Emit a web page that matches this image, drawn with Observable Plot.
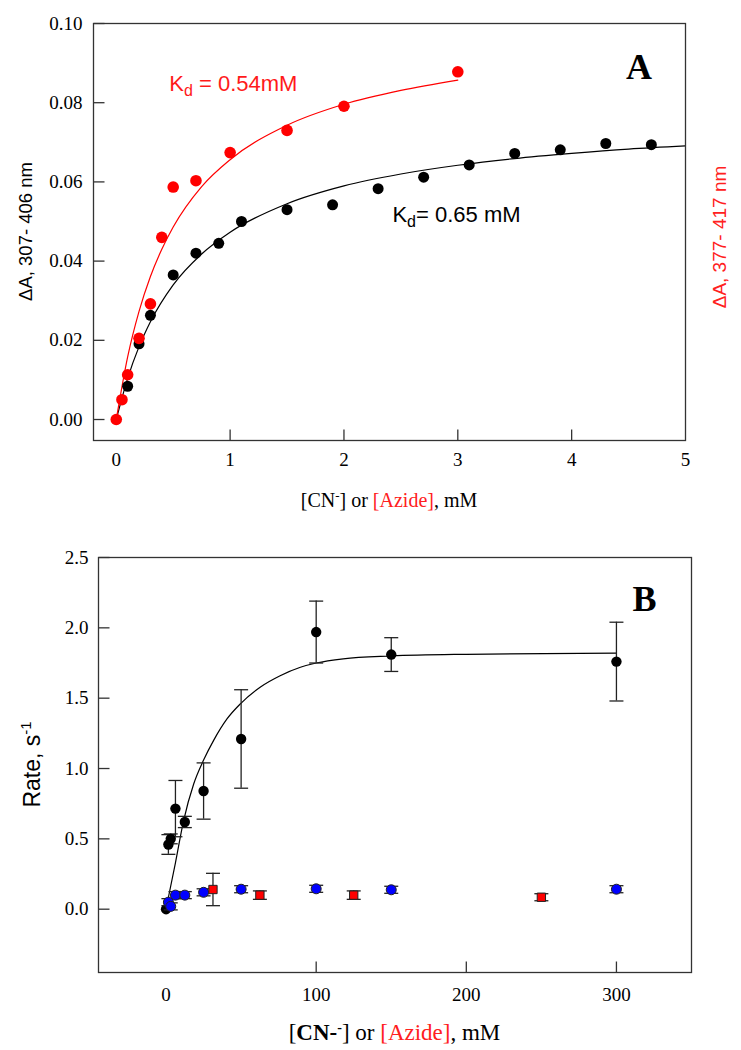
<!DOCTYPE html>
<html><head><meta charset="utf-8">
<script src="https://cdn.jsdelivr.net/npm/d3@7"></script>
<script src="https://cdn.jsdelivr.net/npm/@observablehq/plot@0.6"></script>
<style>
body{margin:0;background:#fff;}
#wrap{position:relative;width:741px;height:1050px;background:#fff;}
#wrap svg{position:absolute;left:0;overflow:visible;}
</style></head><body><div id="wrap"></div>
<script>
// ---------- Panel A data ----------
const cnConc   = [0.1,0.2,0.3,0.5,0.7,0.9,1.1,1.5,1.9,2.3,2.7,3.1,3.5,3.9,4.3,4.7];
const cnDeltaA = [0.0084,0.0191,0.0263,0.0365,0.0420,0.0445,0.0500,0.0530,0.0542,0.0583,0.0612,0.0643,0.0672,0.0681,0.0697,0.0694];
const azConc   = [0,0.05,0.1,0.2,0.3,0.4,0.5,0.7,1.0,1.5,2.0,3.0];
const azDeltaA = [0.0,0.0050,0.0113,0.0205,0.0292,0.0460,0.0587,0.0603,0.0674,0.0730,0.0791,0.0878];
const cnFitX = [0,0.1,0.2,0.3,0.5,0.75,1,1.5,2,2.5,3,3.5,4,4.5,5];
const cnFitY = [0,0.0104,0.0184,0.0247,0.0340,0.0418,0.0473,0.0545,0.0590,0.0620,0.0642,0.0659,0.0672,0.0683,0.0691];
const azFitX = [0,0.1,0.2,0.3,0.4,0.5,0.75,1,1.5,2,2.5,3];
const azFitY = [0,0.0158,0.0273,0.0361,0.0430,0.0486,0.0588,0.0656,0.0743,0.0796,0.0831,0.0857];
const yTicksA = [0,0.02,0.04,0.06,0.08,0.10];
const xTicksA = [0,1,2,3,4,5];
const xInnerTicksA = [1,2,3,4];

// ---------- Panel B data ----------
const cnRateConc = [0,1.56,3.125,6.25,12.5,25,50,100,150,300];
const cnRate     = [0.0,0.46,0.50,0.715,0.62,0.84,1.21,1.97,1.81,1.76];
const cnRateErr  = [0,0.07,0.035,0.2,0.04,0.2,0.35,0.22,0.12,0.28];
const blueConc   = [1.56,3.125,6.25,12.5,25,50,100,150,300];
const blueRate   = [0.05,0.02,0.10,0.10,0.12,0.142,0.145,0.138,0.142];
const blueErr    = [0.025,0.025,0.025,0.025,0.025,0.025,0.025,0.025,0.025];
const azRateConc = [31.25,62.5,125,250];
const azRate     = [0.14,0.10,0.10,0.085];
const azRateErr  = [0.115,0.03,0.03,0.025];
const fitBX = [1.1,6.25,11.7,18.4,25,31.7,40.7,49.5,62.9,76,89.5,100,118,150,200,300];
const fitBY = [0.06,0.33,0.63,0.89,1.06,1.20,1.354,1.46,1.58,1.66,1.72,1.75,1.78,1.80,1.812,1.82];
const yTicksB = [0,0.5,1.0,1.5,2.0,2.5];
const xTicksB = [0,100,200,300];
const xInnerTicksB = [100,200,300];

// ---------- helpers ----------
const zip = (xs, ys, es) => xs.map((x,i) => ({x, y: ys[i], e: es ? es[i] : 0}));
const sym = {
  tickRight: {draw(c){c.moveTo(0,0); c.lineTo(11,0);}},
  tickUp: {draw(c){c.moveTo(0,0); c.lineTo(0,-11);}},
  cap: {draw(c){c.moveTo(-7,0); c.lineTo(7,0);}}
};
function rich(svg, x, y, parts, opts) {
  const t = svg.append("text").attr("x", x).attr("y", y)
    .attr("text-anchor", opts.anchor || "start")
    .attr("font-family", opts.family).attr("font-size", opts.size)
    .attr("fill", "black");
  if (opts.rotate) t.attr("transform", `rotate(${opts.rotate},${x},${y})`);
  for (const p of parts) {
    const s = t.append("tspan").text(p.t);
    if (p.fill) s.attr("fill", p.fill);
    if (p.weight) s.attr("font-weight", p.weight);
    if (p.size) s.attr("font-size", p.size);
    if (p.dy) s.attr("dy", p.dy);
  }
  return t;
}
const W = 741;
const wrap = document.getElementById("wrap");

// ---------- Panel A ----------
const mA = {top:23, right:56, bottom:80, left:93}, hA = 520;
const xA = [-0.2, 5], yA = [-0.0053, 0.10];
const plotA = Plot.plot({
  width: W, height: hA,
  marginTop: mA.top, marginRight: mA.right, marginBottom: mA.bottom, marginLeft: mA.left,
  x: {domain: xA}, y: {domain: yA},
  style: {fontFamily: "Liberation Serif", fontSize: "19px", color: "black", background: "white", overflow: "visible"},
  marks: [
    Plot.line(zip(cnFitX, cnFitY), {x: "x", y: "y", stroke: "black", strokeWidth: 1.2, curve: "monotone-x"}),
    Plot.line(zip(azFitX, azFitY), {x: "x", y: "y", stroke: "#ff0000", strokeWidth: 1.2, curve: "monotone-x"}),
    Plot.dot(zip(cnConc, cnDeltaA), {x: "x", y: "y", r: 5.5, fill: "black"}),
    Plot.dot(zip(azConc, azDeltaA), {x: "x", y: "y", r: 5.8, fill: "#ff0000"}),
    Plot.frame({stroke: "#333", strokeWidth: 1.3}),
    Plot.axisY(yTicksA, {anchor: "left", tickSize: 0, tickPadding: 11, tickFormat: d3.format(".2f"), label: null}),
    Plot.axisX(xTicksA, {anchor: "bottom", tickSize: 0, tickPadding: 12, tickFormat: d3.format("d"), label: null}),
    Plot.dot(yTicksA, {x: xA[0], y: d => d, symbol: sym.tickRight, stroke: "#333", fill: "none", strokeWidth: 1.3}),
    Plot.dot(xInnerTicksA, {x: d => d, y: yA[0], symbol: sym.tickUp, stroke: "#333", fill: "none", strokeWidth: 1.3})
  ]
});
plotA.style.top = "0px";
wrap.appendChild(plotA);
{
  const svg = d3.select(plotA);
  const sx = d3.scaleLinear(xA, [mA.left, W - mA.right]);
  const sy = d3.scaleLinear(yA, [hA - mA.bottom, mA.top]);
  const sans = "Liberation Sans, Arial, sans-serif", serif = "Liberation Serif, Times New Roman, serif";
  rich(svg, sx(0.47), sy(0.0828), [
    {t: "K", fill: "#ff1a1a"}, {t: "d", fill: "#ff1a1a", size: 16, dy: 5}, {t: " = 0.54mM", fill: "#ff1a1a", dy: -5}
  ], {family: sans, size: 22});
  rich(svg, sx(2.43), sy(0.0497), [
    {t: "K"}, {t: "d", size: 16, dy: 5}, {t: "= 0.65 mM", dy: -5}
  ], {family: sans, size: 22});
  rich(svg, sx(4.71), sy(0.0858), [{t: "A", weight: "bold"}], {family: serif, size: 36, anchor: "end"});
  rich(svg, (mA.left + W - mA.right) / 2, 507, [
    {t: "[CN"}, {t: "-", size: 13, dy: -7}, {t: "] or ", dy: 7}, {t: "[Azide]", fill: "#ff2020"}, {t: ", mM"}
  ], {family: serif, size: 20, anchor: "middle"});
  rich(svg, 32, (mA.top + hA - mA.bottom) / 2, [{t: "ΔA, 307- 406 nm"}],
    {family: sans, size: 18.5, anchor: "middle", rotate: -90});
  rich(svg, 726, 237, [{t: "ΔA, 377- 417 nm", fill: "#ff2020"}],
    {family: sans, size: 19, anchor: "middle", rotate: -90});
}

// ---------- Panel B ----------
const topB = 520;
const mB = {top:37, right:50, bottom:78, left:98}, hB = 530;
const xB = [-45, 350], yB = [-0.45, 2.5];
const cnB = zip(cnRateConc, cnRate, cnRateErr);
const cnBerr = cnB.filter(d => d.e > 0);
const blueB = zip(blueConc, blueRate, blueErr);
const azB = zip(azRateConc, azRate, azRateErr);
const errMarks = (data, stroke) => [
  Plot.ruleX(data, {x: "x", y1: d => d.y - d.e, y2: d => d.y + d.e, stroke, strokeWidth: 1.3}),
  Plot.dot(data, {x: "x", y: d => d.y + d.e, symbol: sym.cap, stroke, fill: "none", strokeWidth: 1.3}),
  Plot.dot(data, {x: "x", y: d => d.y - d.e, symbol: sym.cap, stroke, fill: "none", strokeWidth: 1.3})
];
const plotB = Plot.plot({
  width: W, height: hB,
  marginTop: mB.top, marginRight: mB.right, marginBottom: mB.bottom, marginLeft: mB.left,
  x: {domain: xB}, y: {domain: yB},
  style: {fontFamily: "Liberation Serif", fontSize: "19px", color: "black", background: "white", overflow: "visible"},
  marks: [
    Plot.line(zip(fitBX, fitBY), {x: "x", y: "y", stroke: "black", strokeWidth: 1.2, curve: "monotone-x"}),
    ...errMarks(cnBerr, "#222"),
    Plot.dot(cnB, {x: "x", y: "y", r: 5.2, fill: "black"}),
    ...errMarks(blueB, "#222"),
    ...errMarks(azB, "#222"),
    Plot.dot(blueB, {x: "x", y: "y", r: 5, fill: "#0000ff", stroke: "#222", strokeWidth: 1}),
    Plot.dot(azB, {x: "x", y: "y", r: 4.7, symbol: "square", fill: "#ff0000", stroke: "#222", strokeWidth: 1}),
    Plot.frame({stroke: "#333", strokeWidth: 1.3}),
    Plot.axisY(yTicksB, {anchor: "left", tickSize: 0, tickPadding: 10, tickFormat: d3.format(".1f"), label: null}),
    Plot.axisX(xTicksB, {anchor: "bottom", tickSize: 0, tickPadding: 15, tickFormat: d3.format("d"), label: null}),
    Plot.dot(yTicksB, {x: xB[0], y: d => d, symbol: sym.tickRight, stroke: "#333", fill: "none", strokeWidth: 1.3}),
    Plot.dot(xInnerTicksB, {x: d => d, y: yB[0], symbol: sym.tickUp, stroke: "#333", fill: "none", strokeWidth: 1.3})
  ]
});
plotB.style.top = topB + "px";
wrap.appendChild(plotB);
{
  const svg = d3.select(plotB);
  const sx = d3.scaleLinear(xB, [mB.left, W - mB.right]);
  const sy = d3.scaleLinear(yB, [hB - mB.bottom, mB.top]);
  const sans = "Liberation Sans, Arial, sans-serif", serif = "Liberation Serif, Times New Roman, serif";
  rich(svg, sx(327), sy(2.117), [{t: "B", weight: "bold"}], {family: serif, size: 36, anchor: "end"});
  rich(svg, (mB.left + W - mB.right) / 2, 520, [
    {t: "["}, {t: "CN-", weight: "bold"}, {t: "-", size: 14, dy: -8, weight: "bold"}, {t: "] or ", dy: 8},
    {t: "[Azide]", fill: "#ff2020"}, {t: ", mM"}
  ], {family: serif, size: 23, anchor: "middle"});
  rich(svg, 40, (mB.top + hB - mB.bottom) / 2, [
    {t: "Rate, s"}, {t: "-1", size: 15, dy: -9}
  ], {family: sans, size: 23, anchor: "middle", rotate: -90});
}
</script></body></html>
